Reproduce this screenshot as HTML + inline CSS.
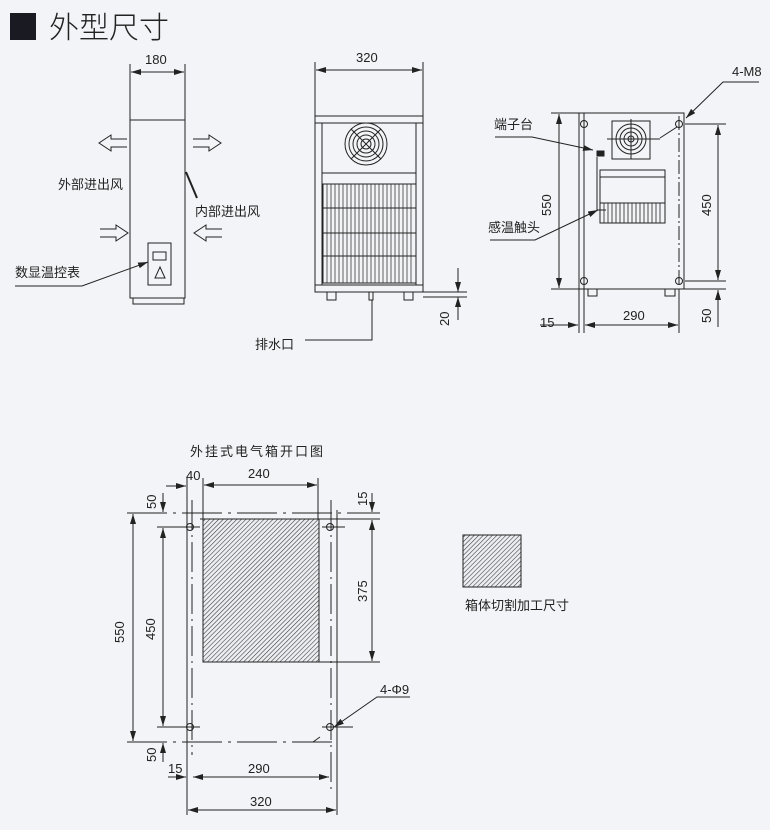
<!DOCTYPE html>
<html><head><meta charset="utf-8"><style>
html,body{margin:0;padding:0;background:#f3f4f7;}
svg{display:block;}
text{font-family:"Liberation Sans","Noto Sans CJK SC",sans-serif;fill:#222;}
</style></head><body>
<svg width="770" height="830" viewBox="0 0 770 830" xmlns="http://www.w3.org/2000/svg">
<defs>
<pattern id="h" width="3.2" height="3.2" patternUnits="userSpaceOnUse" patternTransform="rotate(45)">
<rect width="3.2" height="3.2" fill="#eceef2"/><line x1="0" y1="0" x2="0" y2="3.2" stroke="#333" stroke-width="1.1"/>
</pattern>
<marker id="a" viewBox="0 0 10 6" refX="10" refY="3" markerWidth="10" markerHeight="6" orient="auto-start-reverse" markerUnits="userSpaceOnUse"><path d="M0,0L10,3L0,6z" fill="#222"/></marker>
</defs>
<g stroke="#222" fill="none" stroke-width="1">
<rect x="10" y="13" width="26" height="27" fill="#1a1a22" stroke="none"/>
</g>
<text x="49" y="38" font-size="30" style="font-weight:300">外型尺寸</text>

<g stroke="#222" fill="none" stroke-width="1">
<!-- SIDE VIEW -->
<rect x="130" y="120" width="55" height="178"/>
<rect x="133" y="298" width="51" height="6"/>
<line x1="130" y1="64" x2="130" y2="120"/><line x1="185" y1="64" x2="185" y2="120"/>
<line x1="131" y1="72" x2="184" y2="72" marker-start="url(#a)" marker-end="url(#a)"/>
<path d="M127,139H111V135L99,143L111,151V147H127"/>
<path d="M193,139H209V135L221,143L209,151V147H193"/>
<path d="M100,229H116V225L128,233L116,241V237H100"/>
<path d="M222,229H206V225L194,233L206,241V237H222"/>
<line x1="186" y1="172" x2="197" y2="198" stroke-width="2"/>
<rect x="148" y="243" width="23" height="42"/>
<rect x="153" y="252" width="13" height="8"/>
<path d="M160,267L155,278H165Z"/>
<path d="M15,286H82L148,262" marker-end="url(#a)"/>

<!-- FRONT VIEW -->
<rect x="315" y="116" width="108" height="176"/>
<line x1="315" y1="123" x2="423" y2="123"/>
<line x1="322" y1="123" x2="322" y2="285"/><line x1="416" y1="123" x2="416" y2="285"/>
<line x1="322" y1="173" x2="416" y2="173"/>
<line x1="315" y1="285" x2="423" y2="285"/>
<circle cx="366" cy="144" r="21"/><circle cx="366" cy="144" r="17"/><circle cx="366" cy="144" r="13"/><circle cx="366" cy="144" r="9"/><circle cx="366" cy="144" r="5"/>
<line x1="351" y1="129" x2="381" y2="159"/><line x1="381" y1="129" x2="351" y2="159"/>
<rect x="323" y="184" width="93" height="99"/>
<line x1="323" y1="208" x2="416" y2="208"/><line x1="323" y1="233" x2="416" y2="233"/><line x1="323" y1="256" x2="416" y2="256"/>
<path d="M327,184V283M331,184V283M335,184V283M339,184V283M343,184V283M347,184V283M351,184V283M355,184V283M359,184V283M363,184V283M367,184V283M371,184V283M375,184V283M379,184V283M383,184V283M387,184V283M391,184V283M395,184V283M399,184V283M403,184V283M407,184V283M411,184V283" stroke-width="0.7"/>
<rect x="327" y="292" width="9" height="8"/><rect x="369" y="292" width="4" height="8"/><rect x="404" y="292" width="9" height="8"/>
<path d="M372,300V340H305"/>
<line x1="315" y1="62" x2="315" y2="116"/><line x1="423" y1="62" x2="423" y2="116"/>
<line x1="316" y1="70" x2="422" y2="70" marker-start="url(#a)" marker-end="url(#a)"/>
<line x1="423" y1="292" x2="467" y2="292"/><line x1="423" y1="297" x2="467" y2="297"/>
<line x1="458" y1="268" x2="458" y2="292" marker-end="url(#a)"/>
<line x1="458" y1="320" x2="458" y2="297" marker-end="url(#a)"/>

<!-- RIGHT VIEW -->
<rect x="579" y="113" width="105" height="176"/>
<line x1="584" y1="113" x2="584" y2="333"/>
<line x1="579" y1="289" x2="579" y2="333"/>
<line x1="679" y1="289" x2="679" y2="333"/>
<line x1="584" y1="116" x2="584" y2="287" stroke-dasharray="14,3,2,3"/>
<line x1="679" y1="116" x2="679" y2="287" stroke-dasharray="14,3,2,3"/>
<circle cx="584" cy="124" r="3.5"/><circle cx="679" cy="124" r="3.5"/><circle cx="584" cy="281" r="3.5"/><circle cx="679" cy="281" r="3.5"/>
<line x1="551" y1="113" x2="579" y2="113"/><line x1="551" y1="289" x2="726" y2="289"/>
<line x1="559" y1="114" x2="559" y2="288" marker-start="url(#a)" marker-end="url(#a)"/>
<line x1="685" y1="124" x2="726" y2="124"/><line x1="685" y1="281" x2="726" y2="281"/>
<line x1="718" y1="125" x2="718" y2="280" marker-start="url(#a)" marker-end="url(#a)"/>
<line x1="718" y1="327" x2="718" y2="290" marker-end="url(#a)"/>
<rect x="612" y="121" width="38" height="38"/>
<circle cx="631" cy="139" r="15"/><circle cx="631" cy="139" r="11"/><circle cx="631" cy="139" r="7"/><circle cx="631" cy="139" r="3"/>
<line x1="631" y1="119" x2="631" y2="159"/><line x1="607" y1="139" x2="660" y2="139"/>
<rect x="597" y="151" width="7" height="5" fill="#222"/>
<path d="M597,157V210H606" />
<rect x="600" y="170" width="65" height="53"/>
<line x1="600" y1="177" x2="665" y2="177"/>
<line x1="600" y1="203" x2="665" y2="203"/>
<path d="M604,203V223M608,203V223M612,203V223M616,203V223M620,203V223M624,203V223M628,203V223M632,203V223M636,203V223M640,203V223M644,203V223M648,203V223M652,203V223M656,203V223M660,203V223" stroke-width="0.8"/>
<rect x="588" y="289" width="9" height="7"/><rect x="665" y="289" width="10" height="7"/>
<line x1="540" y1="325" x2="578" y2="325" marker-end="url(#a)"/>
<line x1="585" y1="325" x2="678" y2="325" marker-start="url(#a)" marker-end="url(#a)"/>
<path d="M759,82H723L686,118" marker-end="url(#a)"/>
<path d="M660,138L677,127"/>
<path d="M495,137H532L593,150" marker-end="url(#a)"/>
<path d="M490,240H535L598,210" marker-end="url(#a)"/>

<!-- CUTOUT -->
<rect x="203" y="519" width="116" height="143" fill="url(#h)"/>
<line x1="127" y1="513" x2="380" y2="513" stroke-dasharray="40,6,3,6"/>
<line x1="200" y1="519" x2="380" y2="519"/>
<line x1="319" y1="662" x2="380" y2="662"/>
<line x1="127" y1="742" x2="338" y2="742" stroke-dasharray="40,6,3,6"/>
<line x1="187" y1="478" x2="187" y2="815"/>
<line x1="192" y1="500" x2="192" y2="755" stroke-dasharray="30,5,2,5"/>
<line x1="331" y1="500" x2="331" y2="790" stroke-dasharray="30,5,2,5"/>
<line x1="337" y1="510" x2="337" y2="815"/>
<line x1="203" y1="478" x2="203" y2="519"/><line x1="318" y1="478" x2="318" y2="519"/>
<circle cx="190" cy="527" r="3.5"/><circle cx="330" cy="527" r="3.5"/><circle cx="190" cy="727" r="3.5"/><circle cx="330" cy="727" r="3.5"/>
<line x1="157" y1="527" x2="200" y2="527"/><line x1="157" y1="727" x2="200" y2="727"/>
<line x1="322" y1="527" x2="345" y2="527"/><line x1="322" y1="727" x2="353" y2="727"/>
<line x1="166" y1="486" x2="186" y2="486" marker-end="url(#a)"/>
<line x1="204" y1="485" x2="317" y2="485" marker-start="url(#a)" marker-end="url(#a)"/>
<line x1="133" y1="514" x2="133" y2="741" marker-start="url(#a)" marker-end="url(#a)"/>
<line x1="163" y1="528" x2="163" y2="726" marker-start="url(#a)" marker-end="url(#a)"/>
<line x1="163" y1="493" x2="163" y2="512" marker-end="url(#a)"/>
<line x1="163" y1="762" x2="163" y2="743" marker-end="url(#a)"/>
<line x1="372" y1="493" x2="372" y2="512" marker-end="url(#a)"/>
<line x1="372" y1="520" x2="372" y2="661" marker-start="url(#a)" marker-end="url(#a)"/>
<path d="M410,697H377L334,727" marker-end="url(#a)"/>
<path d="M313,742L320,737"/>
<line x1="168" y1="777" x2="186" y2="777" marker-end="url(#a)"/>
<line x1="193" y1="777" x2="329" y2="777" marker-start="url(#a)" marker-end="url(#a)"/>
<line x1="188" y1="810" x2="336" y2="810" marker-start="url(#a)" marker-end="url(#a)"/>

<rect x="463" y="535" width="58" height="52" fill="url(#h)"/>
</g>

<g font-size="13">
<text x="145" y="64">180</text>
<text x="58" y="189">外部进出风</text>
<text x="195" y="216">内部进出风</text>
<text x="15" y="277">数显温控表</text>
<text x="356" y="62">320</text>
<text x="255" y="349">排水口</text>
<text x="0" y="0" transform="translate(449,326) rotate(-90)">20</text>
<text x="732" y="76">4-M8</text>
<text x="494" y="129">端子台</text>
<text x="488" y="232">感温触头</text>
<text x="0" y="0" transform="translate(551,216) rotate(-90)">550</text>
<text x="0" y="0" transform="translate(711,216) rotate(-90)">450</text>
<text x="0" y="0" transform="translate(711,323) rotate(-90)">50</text>
<text x="540" y="327">15</text>
<text x="623" y="320">290</text>
<text x="190" y="456" letter-spacing="2">外挂式电气箱开口图</text>
<text x="186" y="480">40</text>
<text x="248" y="478">240</text>
<text x="0" y="0" transform="translate(124,643) rotate(-90)">550</text>
<text x="0" y="0" transform="translate(155,640) rotate(-90)">450</text>
<text x="0" y="0" transform="translate(156,509) rotate(-90)">50</text>
<text x="0" y="0" transform="translate(156,762) rotate(-90)">50</text>
<text x="0" y="0" transform="translate(367,506) rotate(-90)">15</text>
<text x="0" y="0" transform="translate(367,602) rotate(-90)">375</text>
<text x="380" y="694">4-Φ9</text>
<text x="168" y="773">15</text>
<text x="248" y="773">290</text>
<text x="250" y="806">320</text>
<text x="465" y="610">箱体切割加工尺寸</text>
</g>
</svg>
</body></html>
